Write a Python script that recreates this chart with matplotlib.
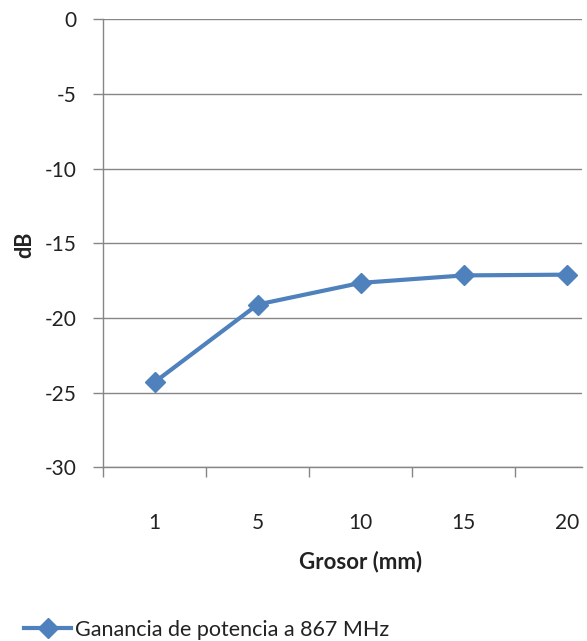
import matplotlib
matplotlib.use("Agg")
from matplotlib import pyplot as plt
from matplotlib.ticker import FixedLocator

plt.rcParams['font.family'] = ['Lato', 'DejaVu Sans']
plt.rcParams['axes.unicode_minus'] = False

grosor = ["1", "5", "10", "15", "20"]
ganancia = [-24.3, -19.1, -17.65, -17.15, -17.1]
serie_label = "Ganancia de potencia a 867 MHz"

LINE_COLOR = "#4F81BD"
GRID_COLOR = "#868686"
TEXT_COLOR = "#222222"

fig = plt.figure(figsize=(5.87, 6.41), dpi=100)
ax = fig.add_axes([103 / 587, 1 - 467.3 / 641, (582 - 103) / 587, (467.3 - 19.3) / 641])

x = list(range(len(grosor)))
ax.plot(x, ganancia, color=LINE_COLOR, lw=3, marker="D", markersize=10,
        label=serie_label, clip_on=False, zorder=3)

ax.set_ylim(-30, 0)
ax.set_xlim(-0.5, 4.146)
ax.set_yticks(range(-30, 1, 5))
ax.yaxis.grid(True, color=GRID_COLOR, lw=1)
ax.set_axisbelow(True)

ax.set_xticks(x)
ax.set_xticklabels(grosor)
ax.xaxis.set_minor_locator(FixedLocator([-0.5, 0.5, 1.5, 2.5, 3.5]))
ax.tick_params(axis="x", which="major", length=0, pad=33, labelsize=15, colors=TEXT_COLOR)
ax.tick_params(axis="x", which="minor", length=7, width=1, color=GRID_COLOR)
ax.tick_params(axis="y", length=7, width=1, color=GRID_COLOR, pad=12,
               labelsize=15, labelcolor=TEXT_COLOR)

for side in ("top", "right"):
    ax.spines[side].set_visible(False)
for side in ("left", "bottom"):
    ax.spines[side].set_color(GRID_COLOR)
    ax.spines[side].set_linewidth(1)

fig.text(25 / 587, 1 - 245 / 641, "dB", rotation=90, fontsize=15.5,
         fontweight="bold", ha="center", va="center", color=TEXT_COLOR)
fig.text(361 / 587, 1 - 562 / 641, "Grosor (mm)", fontsize=16,
         fontweight="bold", ha="center", va="center", color=TEXT_COLOR)

fig.legend(loc="center left", bbox_to_anchor=(24 / 587, 1 - 630 / 641),
           frameon=False, fontsize=15.5, handlelength=2.2, handletextpad=0.15,
           borderaxespad=0, borderpad=0, labelcolor=TEXT_COLOR)

fig.savefig("out.png", dpi=100)
